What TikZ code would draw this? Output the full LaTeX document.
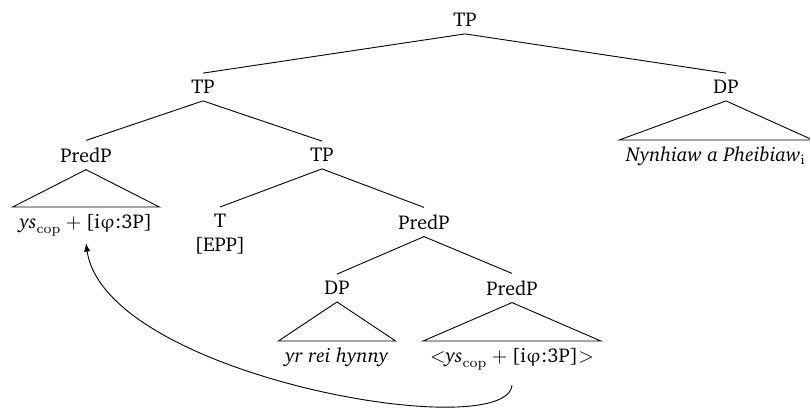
\documentclass[tikz,border=0pt]{standalone}
\usepackage[T1]{fontenc}
\usepackage{charter}
\usepackage{upgreek}
\begin{document}
\begin{tikzpicture}[x=0.5pt,y=-0.5pt,
  lbl/.style={inner sep=3.33pt},
  leaf/.style={inner sep=3.33pt,anchor=north},
  edge/.style={draw,line width=0.45pt},
  roof/.style={draw,line width=0.45pt,line join=miter},
  mvarrow/.style={draw,line width=0.45pt,-latex}]
\useasboundingbox (0,0) rectangle (810,409);
% phrase labels
\node[lbl] (root)  at (465,20)  {TP};
\node[lbl] (tp1)   at (203,87)  {TP};
\node[lbl] (dp1)   at (726,87)  {DP};
\node[lbl] (pred1) at (86,155)  {PredP};
\node[lbl] (tp2)   at (322,155) {TP};
\node[lbl,anchor=north,align=center] (t) at (220,207) {T\\{}[EPP]};
\node[lbl] (pred2) at (424,222) {PredP};
\node[lbl] (dp2)   at (337,288) {DP};
\node[lbl] (pred3) at (512,288) {PredP};
% leaves under roofs
\node[leaf] (txt1) at (86,207) {$\mbox{\textit{ys}}_{\mathrm{cop}}+\mbox{[i$\upvarphi$:3P]}$};
\node[leaf] (txt2) at (337,341) {\textit{yr rei hynny}};
\node[leaf] (txt3) at (512,341) {$\mathord{<}\mbox{\textit{ys}}_{\mathrm{cop}}+\mbox{[i$\upvarphi$:3P]}\mathord{>}$};
\node[leaf] (txt4) at (716,140) {\textit{Nynhiaw a Pheibiaw}$_{\mathrm{i}}$};
% branches
\path[edge] (root.south) -- (tp1.north);
\path[edge] (root.south) -- (dp1.north);
\path[edge] (tp1.south) -- (pred1.north);
\path[edge] (tp1.south) -- (tp2.north);
\path[edge] (tp2.south) -- (t.north);
\path[edge] (tp2.south) -- (pred2.north);
\path[edge] (pred2.south) -- (dp2.north);
\path[edge] (pred2.south) -- (pred3.north);
% roofs
\path[roof] (dp1.south) -- (txt4.north west) -- (txt4.north east) -- cycle;
\path[roof] (pred1.south) -- (txt1.north west) -- (txt1.north east) -- cycle;
\path[roof] (dp2.south) -- (txt2.north west) -- (txt2.north east) -- cycle;
\path[roof] (pred3.south) -- (txt3.north west) -- (txt3.north east) -- cycle;
% movement arrow
\path[mvarrow] ([yshift=-4pt]txt3.south) .. controls +(-6,60) and +(19,133) .. (txt1.south);
\end{tikzpicture}
\end{document}
